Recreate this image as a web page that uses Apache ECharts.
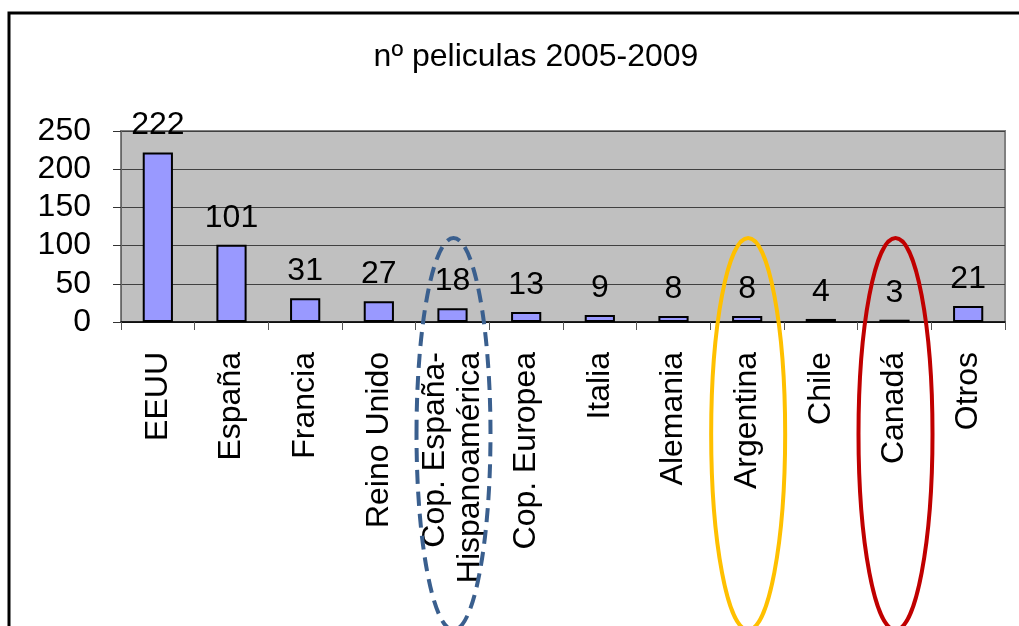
<!DOCTYPE html>
<html>
<head>
<meta charset="utf-8">
<script src="https://cdn.jsdelivr.net/npm/echarts@6/dist/echarts.min.js"></script>
<style>
  html, body { margin: 0; padding: 0; background: #fff; }
  #chart { width: 1019px; height: 626px; }
</style>
</head>
<body>
<div id="chart"></div>
<script>
// datos
const paises = ['EEUU', 'España', 'Francia', 'Reino Unido', 'Cop. España-\nHispanoamérica', 'Cop. Europea',
  'Italia', 'Alemania', 'Argentina', 'Chile', 'Canadá', 'Otros'];
const peliculas = [222, 101, 31, 27, 18, 13, 9, 8, 8, 4, 3, 21];
const yTicks = [0, 50, 100, 150, 200, 250];

// elipses de resaltado (categoría, color, discontinua)
const resaltados = [
  { pais: 4, color: '#3A5F8E', dashed: true },
  { pais: 8, color: '#FFC000', dashed: false },
  { pais: 10, color: '#C00000', dashed: false }
];

const font = 'Liberation Sans, Arial, sans-serif';
const chart = echarts.init(document.getElementById('chart'));

const option = {
  animation: false,
  backgroundColor: '#fff',
  title: {
    text: 'nº peliculas 2005-2009',
    left: 531,
    textAlign: 'center',
    top: 36,
    textStyle: { fontFamily: font, fontSize: 32, fontWeight: 'normal', color: '#000' }
  },
  grid: {
    left: 121, right: 14, top: 131, bottom: 304,
    show: true,
    backgroundColor: '#C0C0C0',
    borderColor: '#808080',
    borderWidth: 2
  },
  xAxis: {
    type: 'category',
    data: paises,
    axisLine: { lineStyle: { color: '#000', width: 1.5 } },
    axisTick: { show: true, length: 8, lineStyle: { color: '#555' } },
    axisLabel: {
      interval: 0, rotate: 90, margin: 30,
      fontFamily: font, fontSize: 32, color: '#000', lineHeight: 35
    }
  },
  yAxis: {
    type: 'value',
    min: yTicks[0],
    max: yTicks[yTicks.length - 1],
    interval: 50,
    axisLine: { show: true, lineStyle: { color: '#666', width: 1 } },
    axisTick: { show: true, length: 8, lineStyle: { color: '#333' } },
    axisLabel: { margin: 30, fontFamily: font, fontSize: 32, color: '#000' },
    splitLine: { show: true, lineStyle: { color: '#404040', width: 1 } }
  },
  series: [{
    type: 'bar',
    data: peliculas,
    barWidth: '41%',
    itemStyle: { color: '#9999FF', borderColor: '#000', borderWidth: 2 },
    label: {
      show: true, position: 'top', distance: 11,
      fontFamily: font, fontSize: 32, color: '#000'
    }
  }]
};
chart.setOption(option);

// marco y elipses, situadas con el eje de categorías
const graficos = [{
  type: 'rect',
  shape: { x: 9, y: 13, width: 1100, height: 1000 },
  style: { fill: null, stroke: '#000', lineWidth: 3 },
  silent: true
}];
resaltados.forEach(r => {
  const cx = chart.convertToPixel({ xAxisIndex: 0 }, r.pais);
  const top = chart.convertToPixel({ yAxisIndex: 0 }, 110);
  const ry = 196;
  graficos.push({
    type: 'ellipse',
    shape: { cx: cx + 1, cy: top + ry, rx: 37, ry: ry },
    style: {
      fill: null, stroke: r.color, lineWidth: 4,
      lineDash: r.dashed ? [14, 8] : null
    },
    z: 100, silent: true
  });
});
chart.setOption({ graphic: graficos });
</script>
</body>
</html>
